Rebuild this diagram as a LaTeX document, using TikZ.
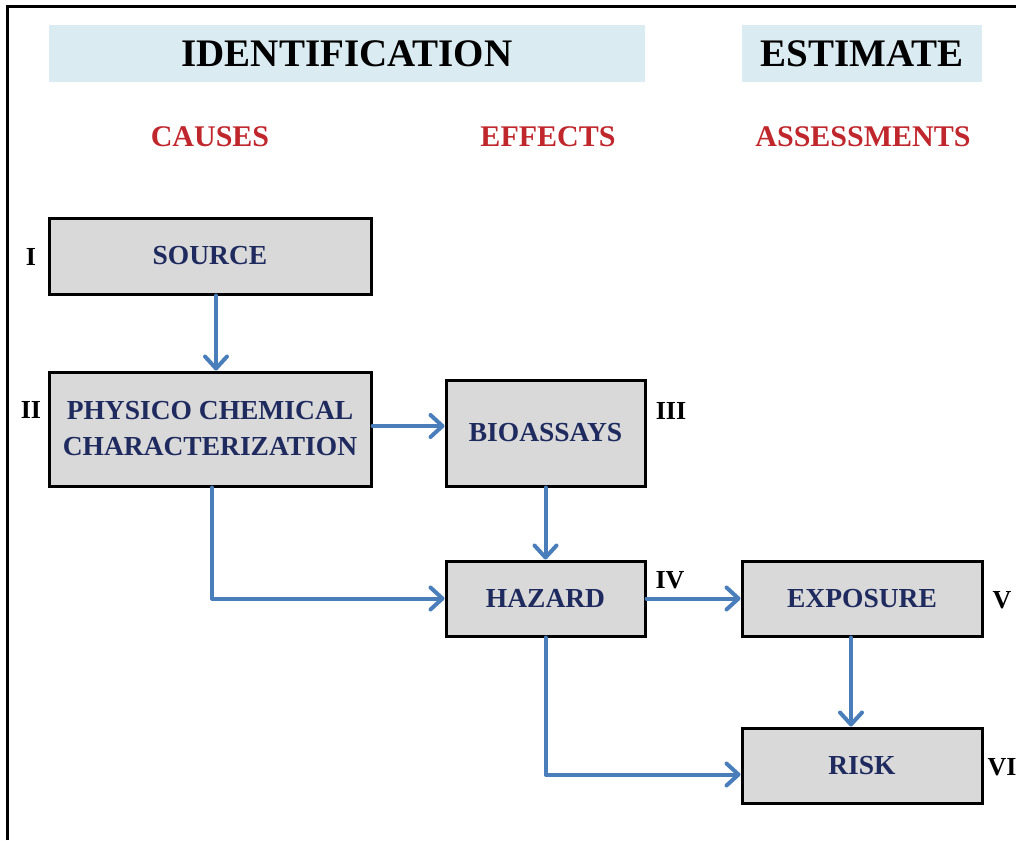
\documentclass[tikz,border=0pt]{standalone}
\usepackage{fontspec}
\setmainfont{Liberation Serif}
\usetikzlibrary{arrows.meta}
\definecolor{bandblue}{RGB}{218,236,242}
\definecolor{boxgray}{RGB}{217,217,217}
\definecolor{navy}{RGB}{31,42,94}
\definecolor{headred}{RGB}{192,39,45}
\definecolor{arrowblue}{RGB}{74,126,187}
\tikzset{
  band/.style={fill=bandblue, inner sep=0pt, font=\fontsize{39}{44}\selectfont\bfseries, text=black},
  colhead/.style={font=\fontsize{30}{34}\selectfont\bfseries, text=headred, inner sep=0pt},
  stepbox/.style={draw=black, line width=3pt, fill=boxgray, inner sep=0pt, align=center,
    font=\fontsize{27.5}{36}\selectfont\bfseries, text=navy},
  numlabel/.style={font=\fontsize{26}{30}\selectfont\bfseries, text=black, inner sep=0pt},
  flow/.style={draw=arrowblue, line width=4pt, line cap=round, line join=round,
    -{Straight Barb[length=12pt,width=22pt,line cap=round,line join=round]}},
}
\begin{document}
\begin{tikzpicture}[x=1pt,y=-1pt]
\useasboundingbox (0,0) rectangle (1016,840);
\draw[line width=3pt] (7,840) -- (7,7) -- (1016,7);
% header bands
\node[band, minimum width=596pt, minimum height=57pt] (ident) at (347,53.5) {IDENTIFICATION};
\node[band, minimum width=240pt, minimum height=57pt] (estim) at (862,53.5) {ESTIMATE};
\node[colhead] (causes) at (210,137) {CAUSES};
\node[colhead] (effects) at (548,137) {EFFECTS};
\node[colhead] (assess) at (863,137) {ASSESSMENTS};
% boxes
\node[stepbox, minimum width=322pt, minimum height=76pt] (src) at (210,256) {SOURCE};
\node[stepbox, minimum width=322pt, minimum height=114pt] (pcc) at (210,429) {PHYSICO CHEMICAL\\CHARACTERIZATION};
\node[stepbox, minimum width=199pt, minimum height=106pt] (bio) at (545.5,433) {BIOASSAYS};
\node[stepbox, minimum width=199pt, minimum height=75pt] (haz) at (545.5,598.5) {HAZARD};
\node[stepbox, minimum width=240pt, minimum height=75pt] (exp) at (862,598.5) {EXPOSURE};
\node[stepbox, minimum width=240pt, minimum height=75pt] (risk) at (862,765.5) {RISK};
% roman numerals
\node[numlabel] (n1) at (31,257) {I};
\node[numlabel] (n2) at (31,410) {II};
\node[numlabel] (n3) at (671,411) {III};
\node[numlabel] (n4) at (670,580) {IV};
\node[numlabel] (n5) at (1002,600) {V};
\node[numlabel] (n6) at (1002,767) {VI};
% connectors
\draw[flow] ([xshift=6pt]src.south) -- ([xshift=6pt]pcc.north);
\draw[flow] ([yshift=3pt]pcc.east) -- ([yshift=3pt]pcc.east -| bio.west);
\draw[flow] ([xshift=2pt]pcc.south) |- (haz.west);
\draw[flow] (bio.south) -- (haz.north);
\draw[flow] (haz.east) -- (exp.west);
\draw[flow] ([xshift=-11pt]exp.south) -- ([xshift=-11pt]risk.north);
\draw[flow] (haz.south) |- ([yshift=-9pt]risk.west);
\end{tikzpicture}
\end{document}
